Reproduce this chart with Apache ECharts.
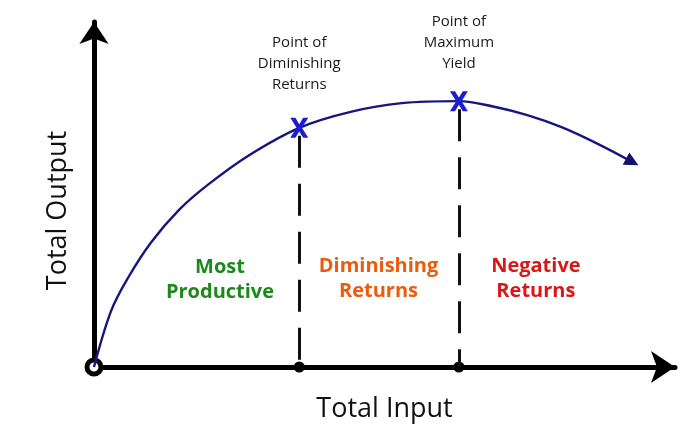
<!DOCTYPE html>
<html>
<head>
<meta charset="utf-8">
<title>Total Output vs Total Input</title>
<script src="https://cdn.jsdelivr.net/npm/echarts@6/dist/echarts.min.js"></script>
<style>
  html, body { margin: 0; padding: 0; background: #ffffff; }
  #chart { width: 679px; height: 424px; }
</style>
</head>
<body>
<div id="chart"></div>
<script>
// Production curve: total output for each level of input
const inputLevels = [0, 3, 6, 10, 15, 20, 27, 36, 45, 54, 64, 70, 76, 82, 88, 94.4];
const totalOutput = [0, 16.8, 26.8, 37.3, 47.2, 54.6, 63.2, 71.6, 76.4, 79.0, 79.6, 78.0, 75.4, 71.8, 67.1, 61.4];

// Key points on the curve (indices into the arrays above)
const keyIndices = [7, 10];
const keyLabels = ['Point of\nDiminishing\nReturns', 'Point of\nMaximum\nYield'];

// Stages of production
const stageLabels = ['Most\nProductive', 'Diminishing\nReturns', 'Negative\nReturns'];
const stageColors = ['#1b8a1b', '#ec5a0c', '#d81818'];

const axisTitles = { x: 'Total Input', y: 'Total Output' };

const curveData = inputLevels.map((x, i) => [x, totalOutput[i]]);
const keyPoints = keyIndices.map(i => curveData[i]);
const lastPoint = curveData[curveData.length - 1];

const chart = echarts.init(document.getElementById('chart'), null, { renderer: 'canvas' });

const FONT = '"Open Sans", sans-serif';
const xMarker = 'path://M0,0 L3.4,0 L6,4.2 L8.6,0 L12,0 L7.8,6.5 L12,13 L8.6,13 L6,8.8 L3.4,13 L0,13 L4.2,6.5 Z';

const option = {
  backgroundColor: '#ffffff',
  animation: false,
  grid: { left: 94, right: 4, top: 22, bottom: 57, outerBoundsMode: 'none', containLabel: false },
  xAxis: {
    type: 'value', min: 0, max: 101.9,
    name: axisTitles.x, nameLocation: 'middle', nameGap: 29,
    nameTextStyle: { fontFamily: FONT, fontSize: 27, color: '#111' },
    axisLine: { show: true, symbol: ['none', 'arrow'], symbolSize: [24, 24],
                lineStyle: { color: '#000', width: 5 } },
    axisTick: { show: false }, axisLabel: { show: false }, splitLine: { show: false }
  },
  yAxis: {
    type: 'value', min: 0, max: 103.3,
    name: axisTitles.y, nameLocation: 'middle', nameGap: 22,
    nameTextStyle: { fontFamily: FONT, fontSize: 27, color: '#111', padding: [0, 32, 0, 0] },
    axisLine: { show: true, symbol: ['none', 'arrow'], symbolSize: [22, 22],
                lineStyle: { color: '#000', width: 5 } },
    axisTick: { show: false }, axisLabel: { show: false }, splitLine: { show: false }
  },
  series: [
    {
      // ring at the origin
      type: 'scatter', z: 2,
      data: [[0, 0]],
      symbol: 'circle', symbolSize: 14,
      itemStyle: { color: '#ffffff', borderColor: '#000', borderWidth: 5, opacity: 1 }
    },
    {
      // dashed guides from the key points down to the input axis
      type: 'line', z: 3, data: [], showSymbol: false,
      markLine: {
        silent: true, symbol: ['none', 'none'],
        lineStyle: { color: '#111', width: 3, type: [32, 16], dashOffset: 40, opacity: 1 },
        label: { show: false },
        data: keyPoints.map(p => [{ coord: [p[0], p[1]] }, { coord: [p[0], 0] }])
      }
    },
    {
      // dots on the input axis
      type: 'scatter', z: 4,
      data: keyPoints.map(p => [p[0], 0]),
      symbol: 'circle', symbolSize: 11,
      itemStyle: { color: '#000', opacity: 1 }
    },
    {
      // production curve
      type: 'line', z: 5,
      data: curveData,
      smooth: 0.35, showSymbol: false,
      lineStyle: { color: '#16167e', width: 2.4 }
    },
    {
      // arrowhead at the end of the curve
      type: 'scatter', z: 6,
      data: [lastPoint],
      symbol: 'triangle', symbolSize: [14, 14], symbolRotate: -118,
      itemStyle: { color: '#10106e', opacity: 1 }
    },
    {
      // key point markers with their captions
      type: 'scatter', z: 7,
      data: keyPoints.map((p, i) => ({
        value: p,
        label: { distance: i === 0 ? 23 : 17 }
      })),
      symbol: xMarker, symbolSize: [18, 20],
      itemStyle: { color: '#1c1dd0', opacity: 1 },
      label: {
        show: true, position: 'top',
        formatter: p => keyLabels[p.dataIndex],
        fontFamily: FONT, fontSize: 15, lineHeight: 21, color: '#1a1a1a', align: 'center'
      }
    },
    {
      // stage captions
      type: 'scatter', z: 8,
      data: [[22.1, 26.0], [49.9, 26.5], [77.5, 26.5]].map((v, i) => ({
        value: v,
        label: { color: stageColors[i] }
      })),
      symbolSize: 0,
      itemStyle: { color: 'transparent', opacity: 1 },
      label: {
        show: true, position: 'inside',
        formatter: p => stageLabels[p.dataIndex],
        fontFamily: FONT, fontSize: 20, fontWeight: 'bold', lineHeight: 25
      }
    }
  ]
};

chart.setOption(option);
</script>
</body>
</html>
